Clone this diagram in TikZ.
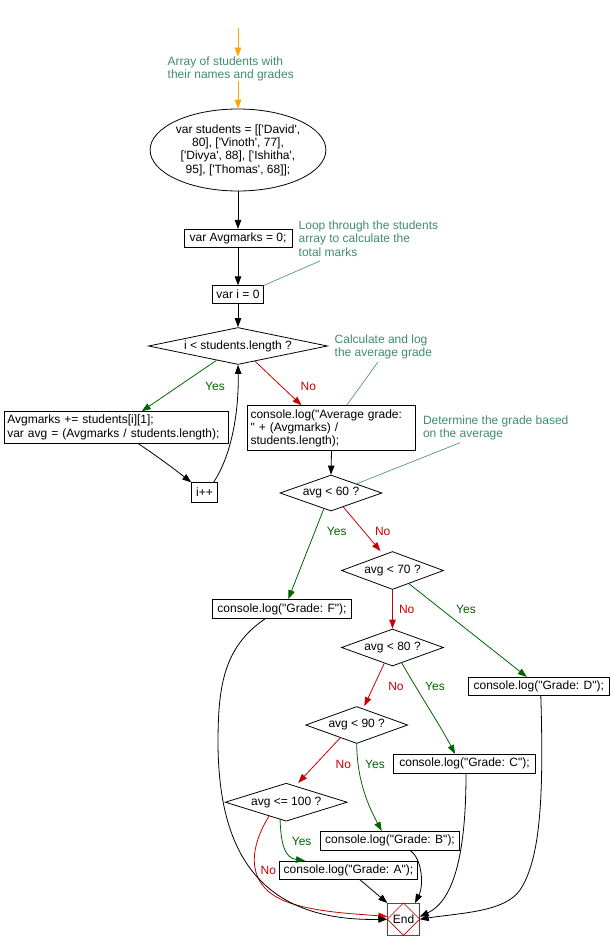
\documentclass[tikz,border=0pt]{standalone}
\usepackage{fontspec}
\setmainfont{Liberation Sans}[Ligatures=TeXOff]
\usetikzlibrary{shapes.geometric,arrows.meta,calc}
\definecolor{cmt}{RGB}{64,140,110}
\definecolor{yesg}{RGB}{0,100,0}
\definecolor{nor}{RGB}{204,0,0}
\definecolor{endb}{RGB}{165,40,40}
\definecolor{orng}{RGB}{255,165,0}
\begin{document}
\begin{tikzpicture}[x=1pt,y=-1pt,
  every node/.style={font=\fontsize{12}{13.3}\selectfont},
  box/.style={draw,rectangle,inner sep=0pt,line width=0.8pt},
  lbox/.style={box,align=left,text width=#1,inner xsep=3pt},
  dia/.style={draw,diamond,inner sep=0pt,line width=0.8pt},
  comment/.style={text=cmt,align=left,anchor=west,inner sep=0pt},
  cline/.style={draw=cmt,line width=0.6pt},
  arr/.style={draw,line width=0.8pt,-{Triangle[length=9pt,width=6.5pt]}},
  yesarr/.style={arr,draw=yesg},
  noarr/.style={arr,draw=nor},
  orarr/.style={arr,draw=orng},
  yeslbl/.style={text=yesg,inner sep=0pt},
  nolbl/.style={text=nor,inner sep=0pt}]
\useasboundingbox (0,0) rectangle (612,950);

% top
\coordinate (top) at (238,28);
\node[comment] (c1) at (167.5,69) {Array of students with\\their names and grades};
\node[draw,ellipse,line width=0.8pt,inner sep=0pt,minimum width=156pt,minimum height=82pt,align=center] (arr) at (238,150)
  {var students = [['David',\\{}80], ['Vinoth', 77],\\{}['Divya', 88], ['Ishitha',\\{}95], ['Thomas', 68]];};
\draw[orarr] (top) -- (top |- c1.north);
\draw[orarr] (top |- c1.south) -- (arr.north);

\node[box,minimum width=108pt,minimum height=18pt] (avg0) at (238,238.3) {var Avgmarks = 0;};
\node[box,minimum width=51pt,minimum height=17.5pt] (i0) at (238,294.5) {var i = 0};
\node[dia,aspect=4.84,minimum width=179pt,minimum height=37pt] (loop) at (238,346) {i < students.length ?};
\node[lbox=218pt,minimum height=31.6pt] (acc) at (116.3,427.5) {Avgmarks += students[i][1];\\{}var avg = (Avgmarks / students.length);};
\node[box,minimum width=25.6pt,minimum height=19.6pt] (ipp) at (204.5,492.5) {i++};
\node[lbox=162pt,minimum height=45pt] (cavg) at (331.5,428.2) {console.log("Average grade:\\{}" + (Avgmarks) /\\{}students.length);};

\node[comment] (c2) at (298.5,238.5) {Loop through the students\\array to calculate the\\total marks};
\node[comment] (c3) at (334.5,346.7) {Calculate and log\\the average grade};
\node[comment] (c4) at (422.8,428) {Determine the grade based\\on the average};

\node[dia,aspect=2.83,minimum width=102pt,minimum height=36pt] (d60) at (331,493) {avg < 60 ?};
\node[dia,aspect=2.68,minimum width=102pt,minimum height=38pt] (d70) at (392.5,570.5) {avg < 70 ?};
\node[dia,aspect=2.76,minimum width=102pt,minimum height=37pt] (d80) at (392.5,647.5) {avg < 80 ?};
\node[dia,aspect=2.76,minimum width=102pt,minimum height=37pt] (d90) at (356.7,725) {avg < 90 ?};
\node[dia,aspect=3.21,minimum width=122pt,minimum height=38pt] (d100) at (286.2,802.2) {avg <= 100 ?};

\node[box,minimum width=139.4pt,minimum height=19pt] (F) at (282,609) {console.log("Grade: F");};
\node[box,minimum width=141pt,minimum height=18pt] (D) at (538.8,686.3) {console.log("Grade: D");};
\node[box,minimum width=142.4pt,minimum height=19pt] (C) at (464.5,763.8) {console.log("Grade: C");};
\node[box,minimum width=138.6pt,minimum height=18.7pt] (B) at (390,840.7) {console.log("Grade: B");};
\node[box,minimum width=138.4pt,minimum height=18.3pt] (A) at (348.5,870.2) {console.log("Grade: A");};

\node[draw=endb,rectangle,line width=0.8pt,minimum width=31.6pt,minimum height=31.6pt,inner sep=0pt] (End) at (403.5,919.2) {};
\draw[draw=nor!85!black,line width=0.6pt] (End.north) -- (End.east) -- (End.south) -- (End.west) -- cycle;
\node at (End.center) {End};

% comment lines
\coordinate (c2p) at (320,261);
\coordinate (c3p) at (377.7,362.3);
\coordinate (c4p) at (460,442.7);
\draw[cline] (c2p) -- (i0.north east);
\draw[cline] (c3p) -- ([xshift=15.2pt]cavg.north);
\draw[cline] (c4p) -- (d60.north east);

% main flow
\draw[arr] (arr.south) -- (avg0.north);
\draw[arr] (avg0.south) -- (i0.north);
\draw[arr] (i0.south) -- (loop.north);
\draw[yesarr] ($(loop.south)!0.24!(loop.west)$) -- ([xshift=25.4pt]acc.north);
\node[yeslbl] at (215,386) {Yes};
\draw[noarr] ($(loop.south)!0.19!(loop.east)$) -- ([xshift=-30pt]cavg.north);
\node[nolbl] at (308.3,386) {No};
\draw[arr] ([xshift=22pt]acc.south) .. controls (160,458) and (178,472) .. (ipp.north west);
\draw[arr] ([xshift=9pt]ipp.north) .. controls (232,455) and (239,410) .. (loop.south);
\draw[arr] (cavg.south) -- (d60.north);

\draw[yesarr] ($(d60.south)!0.14!(d60.west)$) -- ([xshift=6.3pt]F.north);
\node[yeslbl] at (336.7,531.7) {Yes};
\draw[noarr] ($(d60.south)!0.24!(d60.east)$) -- ([xshift=-12pt]d70.north);
\node[nolbl] at (382.7,531.7) {No};

\draw[noarr] (d70.south) -- (d80.north);
\node[nolbl] at (406.7,609.3) {No};
\draw[yesarr] ($(d70.south)!0.32!(d70.east)$) -- ([xshift=-12pt]D.north);
\node[yeslbl] at (466,609.3) {Yes};

\draw[noarr] ($(d80.south)!0.16!(d80.west)$) -- ([xshift=7.6pt]d90.north);
\node[nolbl] at (396,686.7) {No};
\draw[yesarr] ($(d80.south)!0.18!(d80.east)$) .. controls (420,695) and (440,725) .. ([xshift=-9.5pt]C.north);
\node[yeslbl] at (435,686.7) {Yes};

\draw[noarr] ($(d90.south)!0.32!(d90.west)$) -- ([xshift=12pt]d100.north);
\node[nolbl] at (343.3,764) {No};
\draw[yesarr] (d90.south) .. controls (357,775) and (365,800) .. ([xshift=-8.3pt]B.north);
\node[yeslbl] at (375,764) {Yes};

\draw[yesarr] ($(d100.south)!0.1!(d100.west)$) .. controls (281,845) and (285,858) .. ([xshift=-43.5pt]A.north);
\node[yeslbl] at (301.7,841.7) {Yes};
\draw[noarr] ($(d100.south)!0.28!(d100.west)$) .. controls (248,850) and (245,888) .. (290,903) .. controls (320,913) and (360,914) .. ([yshift=2.5pt]End.west);
\node[nolbl] at (268.3,870.7) {No};

% to End
\draw[arr] ([xshift=-17pt]F.south) .. controls (222,648) and (218,690) .. (218,745) .. controls (219,840) and (250,922) .. (End.west);
\draw[arr] ([xshift=11.5pt]A.south) -- (End.north west);
\draw[arr] ([xshift=20pt]B.south) .. controls (422,858) and (424,885) .. ([xshift=11.5pt]End.north);
\draw[arr] ([xshift=1.5pt]C.south) .. controls (466,850) and (455,900) .. ([yshift=2.5pt]End.east);
\draw[arr] ([xshift=2pt]D.south) .. controls (544,800) and (540,860) .. (520,890) .. controls (505,912) and (460,913) .. (End.east);
\end{tikzpicture}
\end{document}
